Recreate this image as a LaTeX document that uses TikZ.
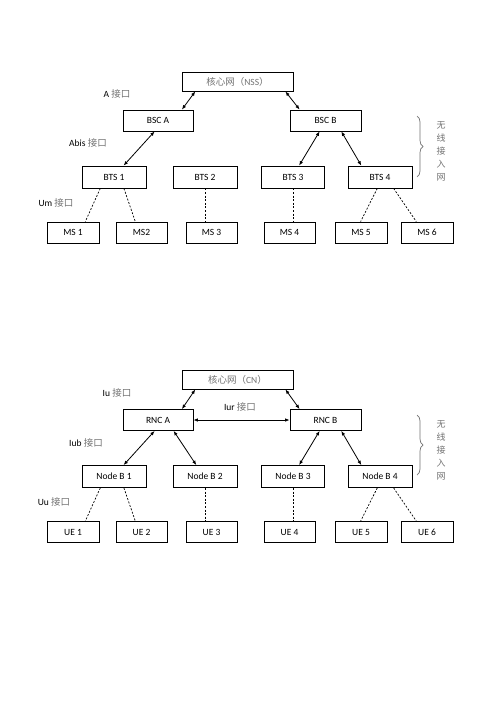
\documentclass[tikz,border=0pt]{standalone}
\usepackage{fontspec}
\setmainfont{Carlito}
\newfontfamily\cjk{Noto Sans CJK SC}
\usetikzlibrary{arrows.meta,calc,decorations.pathreplacing}
\definecolor{cjkgray}{gray}{0.45}
\begin{document}
\begin{tikzpicture}[x=1bp,y=-1bp,
  box/.style={draw,line width=0.8bp,inner sep=0pt,font=\fontsize{9.5bp}{11bp}\selectfont},
  link/.style={line width=0.8bp,{Latex[length=4.5bp,width=3.5bp]}-{Latex[length=4.5bp,width=3.5bp]}},
  air/.style={line width=0.7bp,dash pattern=on 2bp off 1.6bp},
  lbl/.style={inner sep=0pt,font=\fontsize{9.5bp}{11bp}\selectfont},
  zh/.style={inner sep=0pt,text=cjkgray,font=\fontsize{9bp}{11bp}\selectfont\cjk},
  brc/.style={draw=cjkgray,line width=0.7bp,decorate,decoration={brace,amplitude=6bp}}]
\useasboundingbox[fill=white] (0,0) rectangle (496,702);

% ---------------- top diagram (GSM) ----------------
\node[box,minimum width=111bp,minimum height=19bp,text=cjkgray] (nss) at (237.5,81.5) {{\cjk 核心网（}NSS{\cjk ）}};
\node[box,minimum width=70bp,minimum height=21bp] (bsca) at (158,120.5) {BSC A};
\node[box,minimum width=71bp,minimum height=21bp] (bscb) at (325.5,120.5) {BSC B};
\node[box,minimum width=64bp,minimum height=22bp] (bts1) at (114,177) {BTS 1};
\node[box,minimum width=64bp,minimum height=22bp] (bts2) at (205,177) {BTS 2};
\node[box,minimum width=63bp,minimum height=22bp] (bts3) at (293,177) {BTS 3};
\node[box,minimum width=64bp,minimum height=22bp] (bts4) at (380,177) {BTS 4};
\node[box,minimum width=52bp,minimum height=21bp] (ms1) at (73,232.5) {MS 1};
\node[box,minimum width=51bp,minimum height=21bp] (ms2) at (141.5,232.5) {MS2};
\node[box,minimum width=51bp,minimum height=21bp] (ms3) at (211.5,232.5) {MS 3};
\node[box,minimum width=51bp,minimum height=21bp] (ms4) at (289.5,232.5) {MS 4};
\node[box,minimum width=52bp,minimum height=21bp] (ms5) at (361,232.5) {MS 5};
\node[box,minimum width=52bp,minimum height=21bp] (ms6) at (427,232.5) {MS 6};

\draw[link] ($(nss.south west)+(13.7,0)$) -- ($(bsca.north west)+(59.3,0)$);
\draw[link] ($(nss.south east)+(-8,0)$) -- ($(bscb.north west)+(10,0)$);
\draw[link] ($(bsca.south west)+(32,0)$) -- ($(bts1.north west)+(42,0)$);
\draw[link] ($(bscb.south west)+(30,0)$) -- ($(bts3.north west)+(38,0)$);
\draw[link] ($(bscb.south west)+(51.7,0)$) -- ($(bts4.north west)+(13.7,0)$);

\draw[air] ($(bts1.south west)+(18.7,0)$) -- ($(ms1.north west)+(38.7,0)$);
\draw[air] ($(bts1.south west)+(42.3,0)$) -- ($(ms2.north west)+(19.7,0)$);
\draw[air] (bts2.south) -- (bts2.south |- ms3.north);
\draw[air] (bts3.south) -- (bts3.south |- ms4.north);
\draw[air] ($(bts4.south west)+(29.7,0)$) -- ($(ms5.north west)+(26,0)$);
\draw[air] ($(bts4.south west)+(46,0)$) -- ($(ms6.north west)+(15.7,0)$);

\node[lbl] (la) at (117,94) {A {\color{cjkgray}\cjk 接口}};
\node[lbl] (labis) at (88,143) {Abis {\color{cjkgray}\cjk 接口}};
\node[lbl] (lum) at (56,203) {Um {\color{cjkgray}\cjk 接口}};

\coordinate (b1t) at (417,116);
\coordinate (b1b) at (417,177);
\draw[brc] (b1t) -- (b1b);
\node[zh] (w1) at (441,125) {无};
\node[zh] (w2) at (441,138) {线};
\node[zh] (w3) at (441,151) {接};
\node[zh] (w4) at (441,164) {入};
\node[zh] (w5) at (441,177) {网};

% ---------------- bottom diagram (UMTS) ----------------
\node[box,minimum width=111bp,minimum height=19bp,text=cjkgray] (cn) at (237.5,379.5) {{\cjk 核心网（}CN{\cjk ）}};
\node[box,minimum width=70bp,minimum height=21bp] (rnca) at (158,420) {RNC A};
\node[box,minimum width=71bp,minimum height=21bp] (rncb) at (325.5,420) {RNC B};
\node[box,minimum width=64bp,minimum height=22bp] (nb1) at (114,476.5) {Node B 1};
\node[box,minimum width=64bp,minimum height=22bp] (nb2) at (205,476.5) {Node B 2};
\node[box,minimum width=63bp,minimum height=22bp] (nb3) at (293,476.5) {Node B 3};
\node[box,minimum width=64bp,minimum height=22bp] (nb4) at (380,476.5) {Node B 4};
\node[box,minimum width=52bp,minimum height=21bp] (ue1) at (73,532) {UE 1};
\node[box,minimum width=51bp,minimum height=21bp] (ue2) at (141.5,532) {UE 2};
\node[box,minimum width=51bp,minimum height=21bp] (ue3) at (211.5,532) {UE 3};
\node[box,minimum width=51bp,minimum height=21bp] (ue4) at (289.5,532) {UE 4};
\node[box,minimum width=52bp,minimum height=21bp] (ue5) at (361,532) {UE 5};
\node[box,minimum width=52bp,minimum height=21bp] (ue6) at (427,532) {UE 6};

\draw[link] ($(cn.south west)+(13.7,0)$) -- ($(rnca.north west)+(59.3,0)$);
\draw[link] ($(cn.south east)+(-8,0)$) -- ($(rncb.north west)+(10,0)$);
\draw[link] (rnca.east) -- (rncb.west);
\draw[link] ($(rnca.south west)+(32,0)$) -- ($(nb1.north west)+(42,0)$);
\draw[link] ($(rnca.south west)+(51,0)$) -- ($(nb2.north west)+(23.7,0)$);
\draw[link] ($(rncb.south west)+(30,0)$) -- ($(nb3.north west)+(38,0)$);
\draw[link] ($(rncb.south west)+(51.7,0)$) -- ($(nb4.north west)+(13.7,0)$);

\draw[air] ($(nb1.south west)+(18.7,0)$) -- ($(ue1.north west)+(38.7,0)$);
\draw[air] ($(nb1.south west)+(42.3,0)$) -- ($(ue2.north west)+(19.7,0)$);
\draw[air] (nb2.south) -- (nb2.south |- ue3.north);
\draw[air] (nb3.south) -- (nb3.south |- ue4.north);
\draw[air] ($(nb4.south west)+(29.7,0)$) -- ($(ue5.north west)+(26,0)$);
\draw[air] ($(nb4.south west)+(46,0)$) -- ($(ue6.north west)+(15.7,0)$);

\node[lbl] (liu) at (117,393) {Iu {\color{cjkgray}\cjk 接口}};
\node[lbl] (liur) at (240,407) {Iur {\color{cjkgray}\cjk 接口}};
\node[lbl] (liub) at (86,443) {Iub {\color{cjkgray}\cjk 接口}};
\node[lbl] (luu) at (54,502) {Uu {\color{cjkgray}\cjk 接口}};

\coordinate (b2t) at (417,415);
\coordinate (b2b) at (417,475);
\draw[brc] (b2t) -- (b2b);
\node[zh] (v1) at (441,424) {无};
\node[zh] (v2) at (441,437) {线};
\node[zh] (v3) at (441,450) {接};
\node[zh] (v4) at (441,463) {入};
\node[zh] (v5) at (441,476) {网};
\end{tikzpicture}
\end{document}
